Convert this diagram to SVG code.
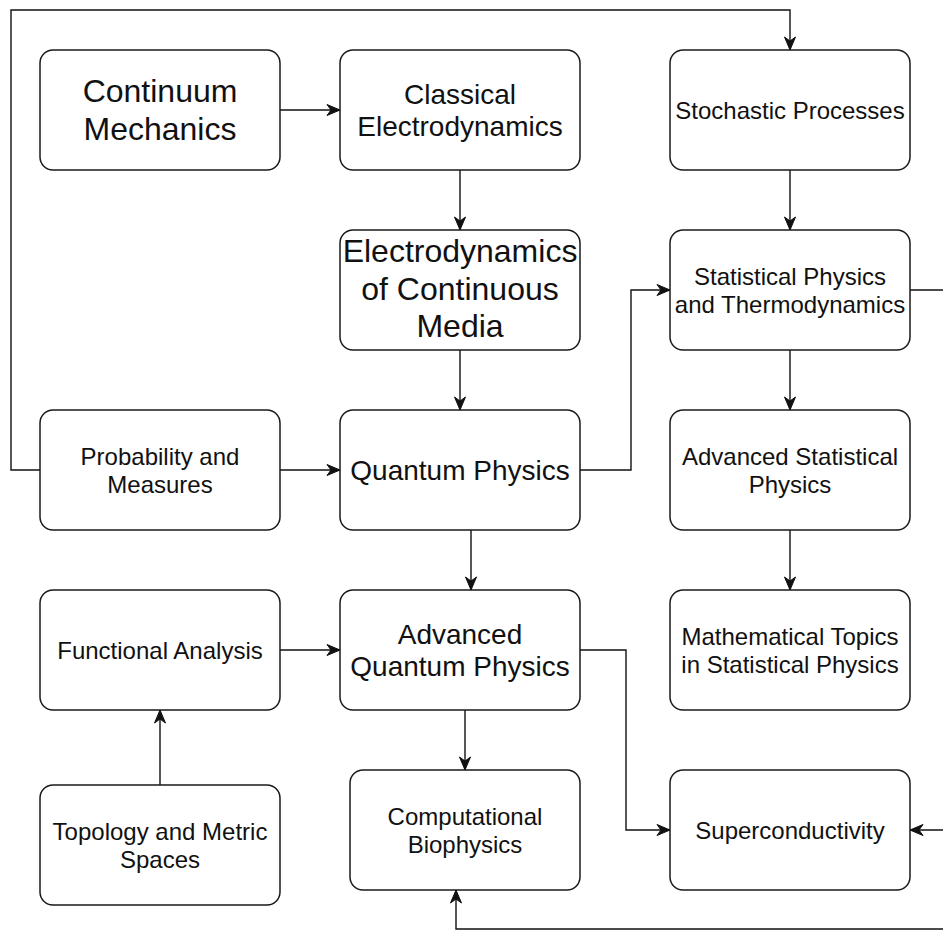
<svg xmlns="http://www.w3.org/2000/svg" width="943" height="931" viewBox="0 0 943 931">
  <style>
    .box { fill: #ffffff; stroke: #1a1a1a; stroke-width: 1.5; }
    .lbl { font-family: "Liberation Sans", Arial, Helvetica, sans-serif; fill: #111111; text-anchor: middle; }
    .s24 { font-size: 24px; }
    .s28 { font-size: 28px; }
    .s32 { font-size: 32px; }
    .edge { fill: none; stroke: #111111; stroke-width: 1.4; }
  </style>
  <defs>
    <marker id="arrow" markerUnits="userSpaceOnUse" markerWidth="16" markerHeight="14" viewBox="-14 -7 16 14" refX="0" refY="0" orient="auto">
      <path d="M0,0 L-13,-5.5 L-9,0 L-13,5.5 Z" fill="#111111" stroke="#111111" stroke-width="1" stroke-linejoin="miter"/>
    </marker>
  </defs>

  <rect width="943" height="931" fill="#ffffff"/>

  <!-- connectors -->
  <g id="connectors">
    <path class="edge" d="M280,110 H340" marker-end="url(#arrow)"/>
    <path class="edge" d="M460,170 V230" marker-end="url(#arrow)"/>
    <path class="edge" d="M460,350 V410" marker-end="url(#arrow)"/>
    <path class="edge" d="M280,470 H340" marker-end="url(#arrow)"/>
    <path class="edge" d="M40,470 H11 V10 H790 V50" marker-end="url(#arrow)"/>
    <path class="edge" d="M580,470 H631 V290 H670" marker-end="url(#arrow)"/>
    <path class="edge" d="M471,530 V590" marker-end="url(#arrow)"/>
    <path class="edge" d="M280,650 H340" marker-end="url(#arrow)"/>
    <path class="edge" d="M160,785 V710" marker-end="url(#arrow)"/>
    <path class="edge" d="M465,710 V770" marker-end="url(#arrow)"/>
    <path class="edge" d="M580,650 H626 V830 H670" marker-end="url(#arrow)"/>
    <path class="edge" d="M790,170 V230" marker-end="url(#arrow)"/>
    <path class="edge" d="M790,350 V410" marker-end="url(#arrow)"/>
    <path class="edge" d="M790,530 V590" marker-end="url(#arrow)"/>
    <path class="edge" d="M910,290 H943"/>
    <path class="edge" d="M943,830 H910" marker-end="url(#arrow)"/>
    <path class="edge" d="M943,929 H456 V890" marker-end="url(#arrow)"/>
  </g>

  <!-- nodes -->
  <g id="continuum-mechanics">
    <rect class="box" x="40" y="50" width="240" height="120" rx="13"/>
    <text class="lbl s32" x="160" y="102">Continuum</text>
    <text class="lbl s32" x="160" y="139.5">Mechanics</text>
  </g>
  <g id="classical-electrodynamics">
    <rect class="box" x="340" y="50" width="240" height="120" rx="13"/>
    <text class="lbl s28" x="460" y="104">Classical</text>
    <text class="lbl s28" x="460" y="136">Electrodynamics</text>
  </g>
  <g id="stochastic-processes">
    <rect class="box" x="670" y="50" width="240" height="120" rx="13"/>
    <text class="lbl s24" x="790" y="119">Stochastic Processes</text>
  </g>
  <g id="electrodynamics-continuous-media">
    <rect class="box" x="340" y="230" width="240" height="120" rx="13"/>
    <text class="lbl s32" x="460" y="262">Electrodynamics</text>
    <text class="lbl s32" x="460" y="299.5">of Continuous</text>
    <text class="lbl s32" x="460" y="337">Media</text>
  </g>
  <g id="statistical-physics">
    <rect class="box" x="670" y="230" width="240" height="120" rx="13"/>
    <text class="lbl s24" x="790" y="284.5">Statistical Physics</text>
    <text class="lbl s24" x="790" y="312.5">and Thermodynamics</text>
  </g>
  <g id="probability-measures">
    <rect class="box" x="40" y="410" width="240" height="120" rx="13"/>
    <text class="lbl s24" x="160" y="464.5">Probability and</text>
    <text class="lbl s24" x="160" y="492.5">Measures</text>
  </g>
  <g id="quantum-physics">
    <rect class="box" x="340" y="410" width="240" height="120" rx="13"/>
    <text class="lbl s28" x="460" y="480">Quantum Physics</text>
  </g>
  <g id="advanced-statistical-physics">
    <rect class="box" x="670" y="410" width="240" height="120" rx="13"/>
    <text class="lbl s24" x="790" y="464.5">Advanced Statistical</text>
    <text class="lbl s24" x="790" y="492.5">Physics</text>
  </g>
  <g id="functional-analysis">
    <rect class="box" x="40" y="590" width="240" height="120" rx="13"/>
    <text class="lbl s24" x="160" y="658.5">Functional Analysis</text>
  </g>
  <g id="advanced-quantum-physics">
    <rect class="box" x="340" y="590" width="240" height="120" rx="13"/>
    <text class="lbl s28" x="460" y="643.5">Advanced</text>
    <text class="lbl s28" x="460" y="676">Quantum Physics</text>
  </g>
  <g id="mathematical-topics">
    <rect class="box" x="670" y="590" width="240" height="120" rx="13"/>
    <text class="lbl s24" x="790" y="644.5">Mathematical Topics</text>
    <text class="lbl s24" x="790" y="672.5">in Statistical Physics</text>
  </g>
  <g id="topology-metric-spaces">
    <rect class="box" x="40" y="785" width="240" height="120" rx="13"/>
    <text class="lbl s24" x="160" y="839.5">Topology and Metric</text>
    <text class="lbl s24" x="160" y="867.5">Spaces</text>
  </g>
  <g id="computational-biophysics">
    <rect class="box" x="350" y="770" width="230" height="120" rx="13"/>
    <text class="lbl s24" x="465" y="824.5">Computational</text>
    <text class="lbl s24" x="465" y="852.5">Biophysics</text>
  </g>
  <g id="superconductivity">
    <rect class="box" x="670" y="770" width="240" height="120" rx="13"/>
    <text class="lbl s24" x="790" y="838.5">Superconductivity</text>
  </g>
</svg>
